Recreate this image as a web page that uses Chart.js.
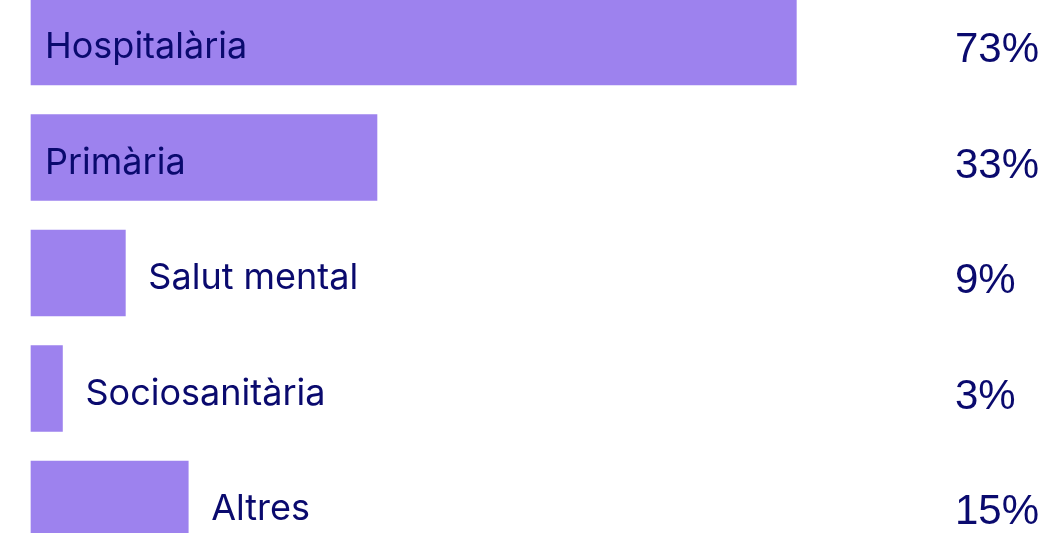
<!DOCTYPE html>
<html>
<head>
<meta charset="utf-8">
<script src="https://cdn.jsdelivr.net/npm/chart.js@4"></script>
<style>
  html, body { margin: 0; padding: 0; background: #fff; }
  #wrap { width: 1051px; height: 533px; }
</style>
</head>
<body>
<div id="wrap"><canvas id="myChart" width="1051" height="533"></canvas></div>
<script>
'use strict';

let categories = ['Hospitalària', 'Primària', 'Salut mental', 'Sociosanitària', 'Altres'];
let shares = [73, 33, 9, 3, 15];
let shareLabels = ['73%', '33%', '9%', '3%', '15%'];

let barColor = '#9d82ee';
let textColor = '#0a0a6e';

// names and percentages drawn next to each bar
let barLabels = {
  id: 'barLabels',
  afterDatasetsDraw(chart) {
    let ctx = chart.ctx;
    let bars = chart.getDatasetMeta(0).data;
    ctx.save();
    ctx.textBaseline = 'alphabetic';
    ctx.textAlign = 'left';
    for (let i = 0; i < bars.length; i++) {
      let bar = bars[i];
      ctx.fillStyle = textColor;
      ctx.font = '36px Inter, "Liberation Sans", sans-serif';
      let w = ctx.measureText(categories[i]).width;
      let barWidth = bar.x - bar.base;
      // short bars get their name to the right instead of inside
      let x = barWidth > 2 * w ? bar.base + 14 : bar.x + 23;
      ctx.fillText(categories[i], x, bar.y + 16);
      ctx.font = '42px "Liberation Sans", Arial, sans-serif';
      ctx.fillText(shareLabels[i], 955, bar.y + 20);
    }
    ctx.restore();
  }
};

let chartStuff = {
  type: 'bar',
  data: {
    labels: categories,
    datasets: [{
      data: shares,
      backgroundColor: barColor,
      borderWidth: 0,
      barThickness: 86,
      clip: false
    }]
  },
  options: {
    indexAxis: 'y',
    responsive: false,
    animation: false,
    layout: {
      padding: { top: 42, bottom: 29, left: 31, right: 24 }
    },
    plugins: {
      legend: { display: false },
      tooltip: { enabled: false }
    },
    scales: {
      x: {
        display: false,
        min: 0,
        max: 95
      },
      y: {
        display: false,
        offset: false
      }
    }
  },
  plugins: [barLabels]
};

const ctx = document.getElementById('myChart').getContext('2d');
new Chart(ctx, chartStuff);
</script>
</body>
</html>
